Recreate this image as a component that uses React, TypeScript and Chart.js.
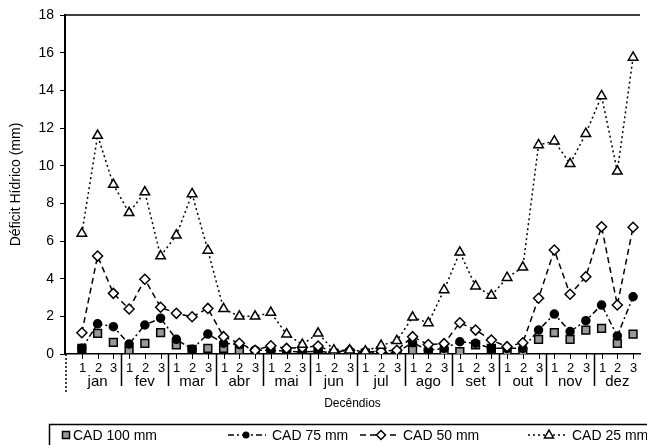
import React, { useEffect, useRef } from 'react';
import { Chart, registerables } from 'chart.js';

Chart.register(...registerables);

const MONTHS = ['jan', 'fev', 'mar', 'abr', 'mai', 'jun', 'jul', 'ago', 'set', 'out', 'nov', 'dez'];
const DECENDIOS = ['1', '2', '3'];

const CAD100 = [0.3, 1.1, 0.62, 0.2, 0.57, 1.13, 0.48, 0.25, 0.3, 0.3, 0.2, 0.1, 0.1, 0.1, 0.05, 0.1, 0.05, 0.05, 0.05, 0.05, 0.05, 0.2, 0.1, 0.1, 0.13, 0.48, 0.3, 0.1, 0.1, 0.78, 1.13, 0.78, 1.27, 1.36, 0.57, 1.06];
const CAD75 = [0.3, 1.6, 1.45, 0.53, 1.54, 1.9, 0.78, 0.25, 1.06, 0.57, 0.5, 0.2, 0.2, 0.15, 0.1, 0.15, 0.05, 0.05, 0.1, 0.05, 0.1, 0.6, 0.2, 0.3, 0.65, 0.57, 0.3, 0.3, 0.3, 1.27, 2.12, 1.19, 1.77, 2.6, 0.96, 3.04];
const CAD50 = [1.13, 5.2, 3.22, 2.39, 3.97, 2.48, 2.16, 1.98, 2.42, 0.92, 0.57, 0.2, 0.44, 0.3, 0.35, 0.42, 0.1, 0.2, 0.1, 0.15, 0.2, 0.92, 0.5, 0.55, 1.66, 1.27, 0.74, 0.39, 0.6, 2.96, 5.52, 3.17, 4.1, 6.76, 2.6, 6.73];
const CAD25 = [6.4, 11.6, 9.0, 7.5, 8.6, 5.2, 6.3, 8.5, 5.5, 2.4, 2.0, 2.0, 2.2, 1.05, 0.5, 1.1, 0.2, 0.2, 0.15, 0.45, 0.7, 1.95, 1.65, 3.4, 5.4, 3.6, 3.1, 4.05, 4.6, 11.1, 11.3, 10.1, 11.7, 13.7, 9.7, 15.75];

const SERIES_NAMES = ['CAD 100 mm', 'CAD 75 mm', 'CAD 50 mm', 'CAD 25 mm'];
const Y_MIN = 0;
const Y_MAX = 18;
const Y_STEP = 2;
const Y_TITLE = 'Déficit Hídrico (mm)';
const X_TITLE = 'Decêndios';

const FONT = '"Liberation Sans", Arial, Helvetica, sans-serif';

const toPoints = (arr: number[]) => arr.map((v, i) => ({ x: i, y: v }));

function drawMarker(ctx: CanvasRenderingContext2D, kind: string, x: number, y: number) {
  ctx.save();
  ctx.setLineDash([]);
  ctx.strokeStyle = '#000';
  ctx.lineWidth = 1.5;
  ctx.beginPath();
  if (kind === 'rect') {
    ctx.rect(x - 3.5, y - 3.5, 7, 7);
    ctx.fillStyle = '#999';
    ctx.fill();
    ctx.stroke();
  } else if (kind === 'circle') {
    ctx.arc(x, y, 3.5, 0, Math.PI * 2);
    ctx.fillStyle = '#000';
    ctx.fill();
  } else if (kind === 'rectRot') {
    ctx.moveTo(x, y - 4.5);
    ctx.lineTo(x + 4.5, y);
    ctx.lineTo(x, y + 4.5);
    ctx.lineTo(x - 4.5, y);
    ctx.closePath();
    ctx.fillStyle = '#fff';
    ctx.fill();
    ctx.stroke();
  } else {
    ctx.moveTo(x, y - 5);
    ctx.lineTo(x + 4.5, y + 3);
    ctx.lineTo(x - 4.5, y + 3);
    ctx.closePath();
    ctx.fillStyle = '#fff';
    ctx.fill();
    ctx.stroke();
  }
  ctx.restore();
}

const decorPlugin = {
  id: 'decor',
  afterDraw(chart: any) {
    const { ctx, chartArea, scales } = chart;
    const xs = scales.x;
    const bottom = chartArea.bottom;
    ctx.save();
    ctx.strokeStyle = '#000';
    ctx.fillStyle = '#000';
    // top border
    ctx.lineWidth = 1.5;
    ctx.beginPath();
    ctx.moveTo(chartArea.left, chartArea.top);
    ctx.lineTo(chartArea.right, chartArea.top);
    ctx.stroke();

    // decendio ticks and numbers
    ctx.lineWidth = 1;
    ctx.font = `13px ${FONT}`;
    ctx.textAlign = 'center';
    ctx.textBaseline = 'middle';
    for (let i = 0; i < MONTHS.length * 3; i++) {
      const x = Math.round(xs.getPixelForValue(i)) + 0.5;
      ctx.beginPath();
      ctx.moveTo(x, bottom);
      ctx.lineTo(x, bottom + 5);
      ctx.stroke();
      ctx.fillText(DECENDIOS[i % 3], x, bottom + 14);
    }

    // month separators
    ctx.lineWidth = 1.5;
    for (let m = 1; m < MONTHS.length; m++) {
      const x = Math.round(xs.getPixelForValue(3 * m - 0.5)) + 0.5;
      ctx.beginPath();
      ctx.moveTo(x, bottom);
      ctx.lineTo(x, bottom + 32);
      ctx.stroke();
    }
    // left dotted extension
    ctx.save();
    ctx.setLineDash([2, 2]);
    ctx.beginPath();
    ctx.moveTo(chartArea.left + 1, bottom);
    ctx.lineTo(chartArea.left + 1, bottom + 38);
    ctx.stroke();
    ctx.restore();

    // month names
    ctx.font = `15px ${FONT}`;
    for (let m = 0; m < MONTHS.length; m++) {
      ctx.fillText(MONTHS[m], xs.getPixelForValue(3 * m + 1), bottom + 28);
    }

    // x title
    ctx.font = `12px ${FONT}`;
    ctx.fillText(X_TITLE, (chartArea.left + chartArea.right) / 2, bottom + 50);

    // legend box
    ctx.lineWidth = 1.5;
    ctx.strokeRect(49.5, 424.5, 620, 40);
    const ly = 435;
    ctx.font = `14px ${FONT}`;
    ctx.textAlign = 'left';
    const items = [
      { kind: 'rect', dash: null, lineX: [0, 0], mx: 66, tx: 73 },
      { kind: 'circle', dash: [6, 3, 2, 3], lineX: [228, 266], mx: 246, tx: 272 },
      { kind: 'rectRot', dash: [6, 4], lineX: [360, 398], mx: 381, tx: 403 },
      { kind: 'triangle', dash: [2, 3], lineX: [528, 566], mx: 549, tx: 572 },
    ];
    items.forEach((it, idx) => {
      if (it.dash) {
        ctx.save();
        ctx.lineWidth = 1.5;
        ctx.setLineDash(it.dash);
        ctx.beginPath();
        ctx.moveTo(it.lineX[0], ly);
        ctx.lineTo(it.lineX[1], ly);
        ctx.stroke();
        ctx.restore();
      }
      drawMarker(ctx, it.kind, it.mx, ly);
      ctx.fillText(SERIES_NAMES[idx], it.tx, ly + 1);
    });
    ctx.restore();
  },
};

export default function App() {
  const canvasRef = useRef<HTMLCanvasElement | null>(null);

  useEffect(() => {
    document.body.style.margin = '0';
    const canvas = canvasRef.current;
    if (!canvas) return;
    const common = { borderColor: '#000', pointBorderColor: '#000', borderWidth: 1.5, pointBorderWidth: 1.5, tension: 0 };
    const chart = new Chart(canvas, {
      type: 'line',
      data: {
        datasets: [
          {
            ...common,
            label: SERIES_NAMES[3],
            data: toPoints(CAD25),
            borderDash: [2, 3],
            pointStyle: 'triangle',
            pointRadius: 5.5,
            pointBackgroundColor: '#fff',
          },
          {
            ...common,
            label: SERIES_NAMES[2],
            data: toPoints(CAD50),
            borderDash: [6, 4],
            pointStyle: 'rectRot',
            pointRadius: 5,
            pointBackgroundColor: '#fff',
          },
          {
            ...common,
            label: SERIES_NAMES[1],
            data: toPoints(CAD75),
            borderDash: [6, 3, 2, 3],
            pointStyle: 'circle',
            pointRadius: 4,
            pointBackgroundColor: '#000',
          },
          {
            ...common,
            label: SERIES_NAMES[0],
            data: toPoints(CAD100),
            showLine: false,
            pointStyle: 'rect',
            pointRadius: 5.5,
            pointBackgroundColor: '#999',
          },
        ],
      },
      options: {
        responsive: false,
        animation: false,
        devicePixelRatio: 1,
        layout: { padding: { left: 8, top: 15, right: 2, bottom: 0 } },
        plugins: { legend: { display: false }, tooltip: { enabled: false } },
        scales: {
          x: {
            type: 'linear',
            min: -1.07,
            max: 35.44,
            grid: { display: false, drawTicks: false },
            border: { display: true, color: '#000', width: 1.5 },
            ticks: { display: false },
            afterFit: (scale: any) => { scale.height = 91; },
          },
          y: {
            type: 'linear',
            min: Y_MIN,
            max: Y_MAX,
            ticks: {
              stepSize: Y_STEP,
              color: '#000',
              padding: 6,
              font: { family: FONT, size: 14 },
            },
            grid: { drawOnChartArea: false, drawTicks: true, tickLength: 5, color: '#000', lineWidth: 1 },
            border: { display: true, color: '#000', width: 2 },
            title: {
              display: true,
              text: Y_TITLE,
              color: '#000',
              font: { family: FONT, size: 14 },
              padding: { top: 0, bottom: 4 },
            },
            afterFit: (scale: any) => { scale.width = 57; },
          },
        },
      },
      plugins: [decorPlugin],
    });
    return () => chart.destroy();
  }, []);

  return (
    <div style={{ position: 'fixed', left: 0, top: 0, width: 647, height: 445, background: '#fff' }}>
      <canvas ref={canvasRef} width={647} height={445} style={{ display: 'block', width: 647, height: 445 }} />
    </div>
  );
}
